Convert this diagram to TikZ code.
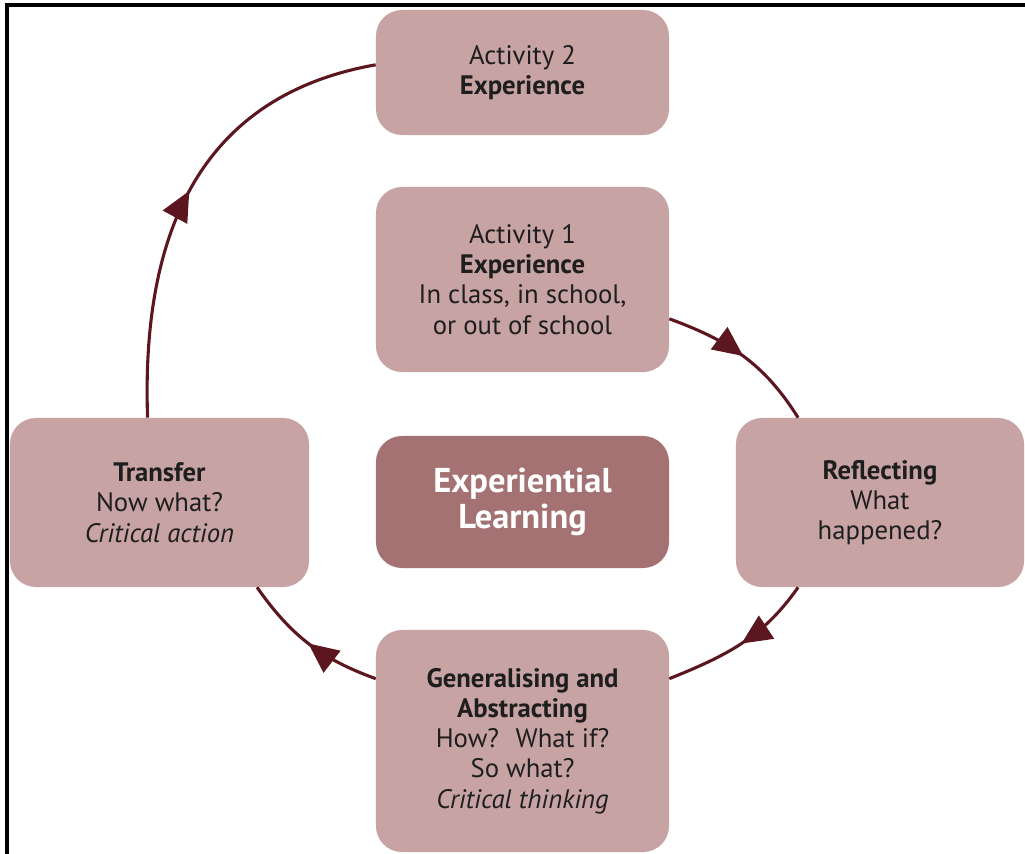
\documentclass[tikz,border=0pt]{standalone}
\usepackage{fontspec}
\setmainfont{PT Sans}
\usetikzlibrary{arrows.meta,decorations.markings}
\definecolor{boxfill}{HTML}{C8A3A3}
\definecolor{hubfill}{HTML}{A57274}
\definecolor{cyclecol}{HTML}{5B1620}
\definecolor{textcol}{HTML}{1E1E1E}
\tikzset{
  stagebox/.style={fill=boxfill, rounded corners=0.65cm, align=center, text=textcol,
    font=\fontsize{19}{21.5}\selectfont, inner sep=0pt},
  hubbox/.style={stagebox, fill=hubfill, text=white, font=\fontsize{24.5}{25.6}\selectfont\bfseries},
  cyclearrow/.style={draw=cyclecol, line width=2.2pt, postaction={decorate},
    decoration={markings, mark=at position 0.5 with {\arrow{Triangle[length=0.75cm,width=0.68cm]}}}}
}
\begin{document}
\begin{tikzpicture}[x=0.025cm, y=-0.025cm]
    % page size and frame
    \useasboundingbox (0,0) rectangle (1025,854);
    \draw[line width=2.6pt] (1025,5) -- (7,5) -- (7,854);

    % the stages of the cycle
    \node[stagebox, minimum width=7.325cm, minimum height=3.125cm] (act2) at (522.5,72.5)
        {Activity 2\\\textbf{Experience}};
    \node[stagebox, minimum width=7.325cm, minimum height=4.625cm] (act1) at (522.5,279.5)
        {Activity 1\\\textbf{Experience}\\In class, in school,\\or out of school};
    \node[hubbox, minimum width=7.325cm, minimum height=3.3cm] (hub) at (522.5,502)
        {Experiential\\Learning};
    \node[stagebox, minimum width=7.475cm, minimum height=4.225cm] (trans) at (159.5,502.5)
        {\textbf{Transfer}\\Now what?\\\textit{Critical action}};
    \node[stagebox, minimum width=7.2cm, minimum height=4.225cm] (refl) at (880,502.5)
        {\textbf{Reflecting}\\What\\happened?};
    \node[stagebox, minimum width=7.325cm, minimum height=5.55cm] (gen) at (522.5,741)
        {\textbf{Generalising and}\\\textbf{Abstracting}\\How?~ What if?\\So what?\\\textit{Critical thinking}};

    % connectors round the cycle
    \path[cyclearrow] (act1.-15) to[out=-20, in=122] (refl.134);
    \path[cyclearrow] (refl.-134) to[out=-125, in=22] (gen.23);
    \path[cyclearrow] (gen.157) to[out=160, in=-55] (trans.-41);
    \path[cyclearrow] (trans.98) to[out=92, in=190, looseness=1.1] (act2.177);
\end{tikzpicture}
\end{document}
